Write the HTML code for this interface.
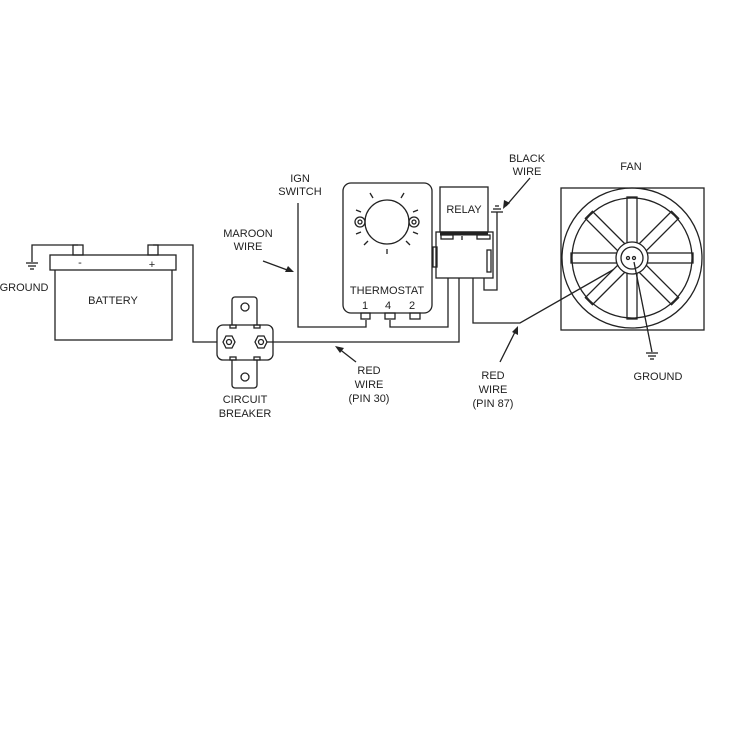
<!DOCTYPE html>
<html><head><meta charset="utf-8"><style>
html,body{margin:0;padding:0;background:#fff}
svg{display:block}
text{font-family:"Liberation Sans",sans-serif;font-size:11px;fill:#222;text-anchor:middle}
</style></head><body>
<svg width="750" height="750" viewBox="0 0 750 750" xmlns="http://www.w3.org/2000/svg">
<g fill="none" stroke="#222" stroke-width="1.3">
<!-- battery -->
<rect x="55" y="268" width="117" height="72"/>
<rect x="50" y="255" width="126" height="15" fill="#fff"/>
<rect x="73" y="245" width="10" height="10"/>
<rect x="148" y="245" width="10" height="10"/>
<polyline points="78,245 32,245 32,262"/>
<line x1="26" y1="263" x2="38" y2="263"/><line x1="28" y1="266" x2="36" y2="266"/><line x1="30" y1="269" x2="34" y2="269"/>
<polyline points="153,245 193,245 193,342 224,342"/>
<!-- breaker -->
<rect x="232" y="297" width="25" height="32" rx="3" fill="#fff"/>
<rect x="232" y="356" width="25" height="32" rx="3" fill="#fff"/>
<rect x="217" y="325" width="56" height="35" rx="6" fill="#fff"/>
<circle cx="245" cy="307" r="4"/><circle cx="245" cy="377" r="4"/>
<rect x="230" y="325" width="6" height="3"/><rect x="254" y="325" width="6" height="3"/>
<rect x="230" y="357" width="6" height="3"/><rect x="254" y="357" width="6" height="3"/>
<polygon points="223,342 226,336 232,336 235,342 232,348 226,348"/><circle cx="229" cy="342" r="2.5"/>
<polygon points="255,342 258,336 264,336 267,342 264,348 258,348"/><circle cx="261" cy="342" r="2.5"/>
<polyline points="267,342 459,342 459,278"/>
<!-- maroon wire -->
<polyline points="298,203 298,327 366,327 366,320"/>
<polyline points="390,320 390,327 448,327 448,278"/>
<!-- thermostat -->
<rect x="343" y="183" width="89" height="130" rx="8"/>
<circle cx="387" cy="222" r="22"/>
<circle cx="360" cy="222" r="5"/><circle cx="360" cy="222" r="2"/>
<circle cx="414" cy="222" r="5"/><circle cx="414" cy="222" r="2"/>
<g transform="translate(387,222)">
<line x1="0" y1="27" x2="0" y2="32"/>
<line x1="19" y1="19" x2="23" y2="23"/><line x1="-19" y1="19" x2="-23" y2="23"/>
<line x1="26" y1="10" x2="31" y2="12"/><line x1="-26" y1="10" x2="-31" y2="12"/>
<line x1="26" y1="-10" x2="31" y2="-12"/><line x1="-26" y1="-10" x2="-31" y2="-12"/>
<line x1="14" y1="-24" x2="17" y2="-29"/><line x1="-14" y1="-24" x2="-17" y2="-29"/>
</g>
<rect x="361" y="313" width="9" height="6"/><rect x="385" y="313" width="10" height="6"/><rect x="410" y="313" width="10" height="6"/>
<!-- relay -->
<rect x="440" y="187" width="48" height="45"/>
<rect x="436" y="232" width="57" height="46"/>
<line x1="440" y1="234" x2="488" y2="234" stroke-width="3"/>
<rect x="441" y="235" width="12" height="4"/><rect x="477" y="235" width="13" height="4"/>
<rect x="433" y="247" width="4" height="20"/>
<rect x="487" y="250" width="4" height="22"/>
<line x1="462" y1="236" x2="462" y2="240"/>
<polyline points="484,278 484,290 497,290 497,212"/>
<line x1="491" y1="212" x2="503" y2="212"/><line x1="493" y1="209" x2="501" y2="209"/><line x1="495" y1="206" x2="499" y2="206"/>
<polyline points="473,278 473,323 520,323 625,263"/>
<!-- fan -->
<rect x="561" y="188" width="143" height="142"/>
<g transform="translate(632,258)">
<g fill="#fff">
<rect x="0" y="-5" width="61" height="10"/>
<rect x="0" y="-5" width="61" height="10" transform="rotate(45)"/>
<rect x="0" y="-5" width="61" height="10" transform="rotate(90)"/>
<rect x="0" y="-5" width="61" height="10" transform="rotate(135)"/>
<rect x="0" y="-5" width="61" height="10" transform="rotate(180)"/>
<rect x="0" y="-5" width="61" height="10" transform="rotate(225)"/>
<rect x="0" y="-5" width="61" height="10" transform="rotate(270)"/>
<rect x="0" y="-5" width="61" height="10" transform="rotate(315)"/>
</g>
<circle r="70"/>
<circle r="60"/>
<circle r="16" fill="#fff"/>
<circle r="11"/>
<circle cx="-4" cy="0" r="1.5"/><circle cx="2" cy="0" r="1.5"/>
</g>
<line x1="634" y1="262" x2="652" y2="352"/>
<line x1="646" y1="353" x2="658" y2="353"/><line x1="648" y1="356" x2="656" y2="356"/><line x1="650" y1="359" x2="654" y2="359"/>
<!-- arrows -->
<line x1="263" y1="261" x2="290" y2="271"/>
<line x1="530" y1="178" x2="506" y2="206"/>
<line x1="356" y1="362" x2="338" y2="348"/>
<line x1="500" y1="362" x2="516" y2="330"/>
</g>
<g fill="#222">
<polygon points="294,272 285,272 288,266"/>
<polygon points="503,209 504,200 510,203"/>
<polygon points="335,346 344,348 340,353"/>
<polygon points="518,326 518,335 512,332"/>
</g>
<text x="113" y="304" font-size="12">BATTERY</text>
<text x="24" y="291">GROUND</text>
<text x="80" y="266" font-size="12">-</text>
<text x="152" y="268" font-size="12">+</text>
<text x="245" y="403" font-size="12">CIRCUIT</text>
<text x="245" y="417" font-size="12">BREAKER</text>
<text x="300" y="182">IGN</text>
<text x="300" y="195">SWITCH</text>
<text x="248" y="237">MAROON</text>
<text x="248" y="250">WIRE</text>
<text x="387" y="294">THERMOSTAT</text>
<text x="365" y="309" font-size="10">1</text>
<text x="388" y="309" font-size="10">4</text>
<text x="412" y="309" font-size="10">2</text>
<text x="464" y="213" font-size="12">RELAY</text>
<text x="527" y="162">BLACK</text>
<text x="527" y="175">WIRE</text>
<text x="631" y="170">FAN</text>
<text x="658" y="380">GROUND</text>
<text x="369" y="374">RED</text>
<text x="369" y="388">WIRE</text>
<text x="369" y="402">(PIN 30)</text>
<text x="493" y="379">RED</text>
<text x="493" y="393">WIRE</text>
<text x="493" y="407">(PIN 87)</text>
</svg>
</body></html>
